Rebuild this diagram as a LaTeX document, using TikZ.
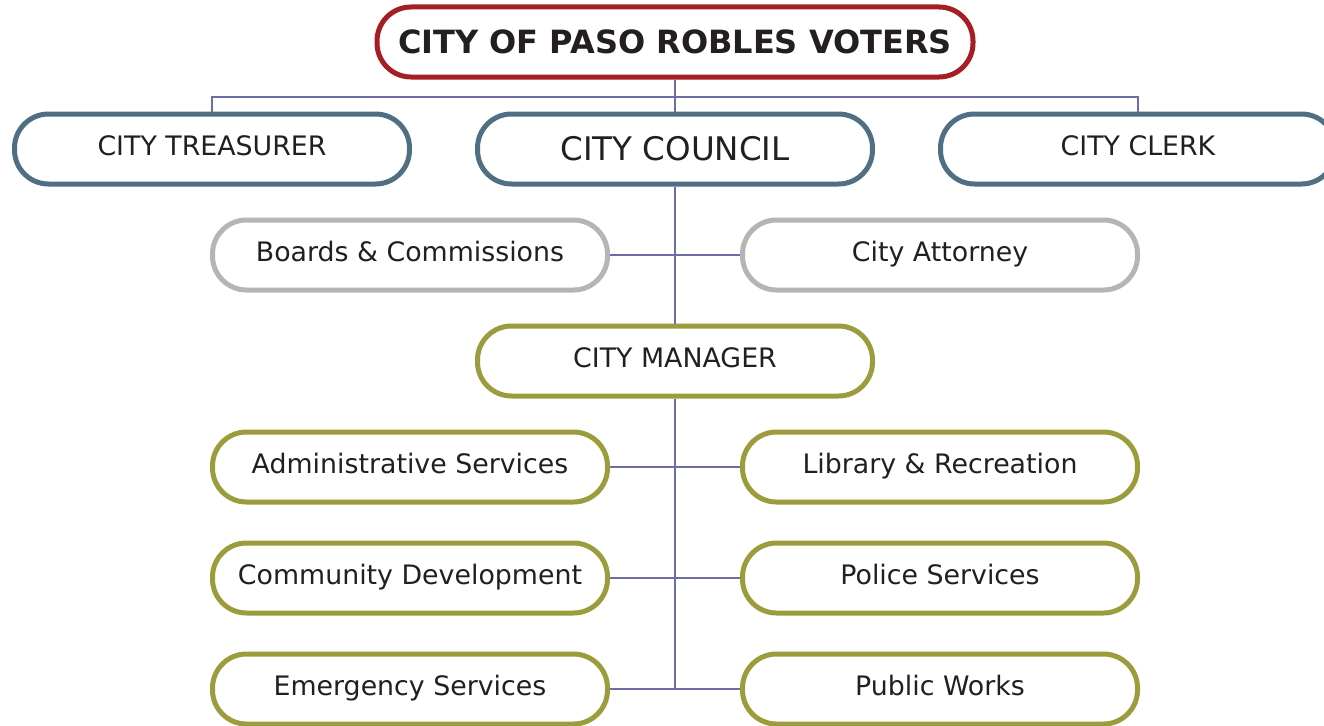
\documentclass[tikz,border=0pt]{standalone}
\usepackage{fontspec}
\setmainfont{DejaVu Sans}
\definecolor{cred}{HTML}{A51E24}
\definecolor{cblue}{HTML}{4F6F82}
\definecolor{cgray}{HTML}{B5B5B5}
\definecolor{colive}{HTML}{9C9C3C}
\definecolor{cline}{HTML}{6C6CA6}
\definecolor{ctext}{HTML}{231F20}
\tikzset{
  pill/.style={draw, line width=5pt, rounded corners=34pt, minimum width=395pt, minimum height=70pt, inner sep=0pt, fill=white, text=ctext, font=\fontsize{26.8}{30}\selectfont, text height=19.5pt, text depth=7pt},
  topbox/.style={pill, draw=cred, minimum width=596pt, font=\fontsize{32}{36}\selectfont\bfseries, text height=23.5pt, text depth=0pt},
  bluebox/.style={pill, draw=cblue},
  graybox/.style={pill, draw=cgray},
  olivebox/.style={pill, draw=colive},
  conn/.style={draw=cline, line width=1.6pt}
}
\begin{document}
\begin{tikzpicture}[x=1pt,y=-1pt]
\useasboundingbox (0,0) rectangle (1324,725);
\clip (0,0) rectangle (1324,725);
\fill[white] (0,0) rectangle (1324,725);
\coordinate (tj) at (675,97);
\coordinate (mb) at (675,689);
\node[topbox] (voters) at (675,42) {CITY OF PASO ROBLES VOTERS};
\node[bluebox] (treasurer) at (212,149) {CITY TREASURER};
\node[bluebox, font=\fontsize{32.5}{36}\selectfont, text height=23.7pt, text depth=0pt] (council) at (675,149) {CITY COUNCIL};
\node[bluebox] (clerk) at (1138,149) {CITY CLERK};
\node[graybox] (boards) at (410,255) {Boards \& Commissions};
\node[graybox] (attorney) at (940,255) {City Attorney};
\node[olivebox] (manager) at (675,361) {CITY MANAGER};
\node[olivebox] (admin) at (410,467) {Administrative Services};
\node[olivebox] (library) at (940,467) {Library \& Recreation};
\node[olivebox] (commdev) at (410,578) {Community Development};
\node[olivebox] (police) at (940,578) {Police Services};
\node[olivebox] (emerg) at (410,689) {Emergency Services};
\node[olivebox] (works) at (940,689) {Public Works};
\path[conn] (voters.south) -- (council.north);
\path[conn] (treasurer.north) |- (tj) -| (clerk.north);
\path[conn] (council.south) -- (manager.north);
\path[conn] (boards.east) -- (attorney.west);
\path[conn] (manager.south) -- (mb);
\path[conn] (admin.east) -- (library.west);
\path[conn] (commdev.east) -- (police.west);
\path[conn] (emerg.east) -- (works.west);
\end{tikzpicture}
\end{document}
